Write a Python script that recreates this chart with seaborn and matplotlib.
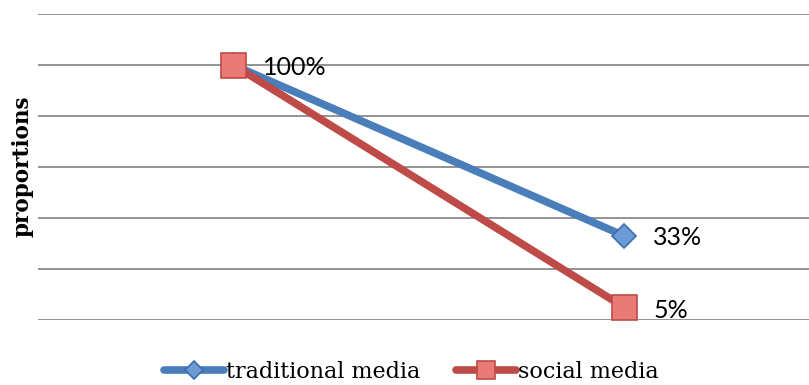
import matplotlib
matplotlib.use("Agg")
import matplotlib.pyplot as plt
import seaborn as sns
import pandas as pd

# Two measurement points, shares in percent
stages = ["start", "end"]
traditional_media = [100, 33]
social_media = [100, 5]
series_names = ["traditional media", "social media"]
y_ticks = [0, 20, 40, 60, 80, 100, 120]

df = pd.DataFrame({
    "stage": stages * 2,
    "value": traditional_media + social_media,
    "series": [series_names[0]] * 2 + [series_names[1]] * 2,
})

sns.set_theme(style="white")
plt.rcParams["font.family"] = ["DejaVu Serif"]
plt.rcParams["text.color"] = "black"

fig = plt.figure(figsize=(8.09, 3.85), dpi=100)
ax = fig.add_axes([38 / 809, 65 / 385, 1 - 38 / 809, (320 - 14) / 385])

styles = {
    "traditional media": dict(color="#4A7EBB", marker="D", markersize=12.5,
                              mfc="#6C9BD5", mec="#3D6EAD", mew=1.2),
    "social media": dict(color="#BE4B48", marker="s", markersize=18,
                         mfc="#EA7A76", mec="#BE4B48", mew=1.2),
}

for name in series_names:
    sub = df[df["series"] == name]
    st = styles[name]
    sns.lineplot(data=sub, x="stage", y="value", ax=ax, color=st["color"],
                 linewidth=5.5, marker=st["marker"], markersize=st["markersize"],
                 markerfacecolor=st["mfc"], markeredgecolor=st["mec"],
                 markeredgewidth=st["mew"], label=name, zorder=3,
                 solid_capstyle="round")

# Value labels beside the markers
label_font = ["Lato", "DejaVu Sans"]
for x, v, dy in [(0, traditional_media[0], -2), (1, traditional_media[1], -1),
                 (1, social_media[1], -2)]:
    ax.annotate(f"{v}%", (x, v), xytext=(21, dy), textcoords="offset points",
                va="center", ha="left", fontsize=18, family=label_font,
                color="black")

ax.set_ylim(0, 120)
ax.set_xlim(-0.5, 1.473)
ax.set_yticks(y_ticks)
ax.set_yticklabels([])
ax.set_xticks([])
ax.set_xlabel("")
ax.set_ylabel("")
ax.grid(axis="y", color="#8A8A8A", linewidth=1.3)
ax.grid(axis="x", visible=False)
ax.set_axisbelow(True)
for s in ax.spines.values():
    s.set_visible(False)
ax.tick_params(length=0)

fig.text(23 / 809, 1 - 166 / 385, "proportions", rotation=90, fontsize=15.5,
         fontweight="bold", ha="center", va="center", color="black")

leg = ax.legend(loc="center", bbox_to_anchor=(0.5 - 0.016, -0.17),
                ncol=2, frameon=False, fontsize=16, handlelength=2.7,
                columnspacing=1.6, handletextpad=0.1, borderaxespad=0,
                markerscale=0.75)
for t in leg.get_texts():
    t.set_color("black")

fig.savefig("out.png", dpi=100)
